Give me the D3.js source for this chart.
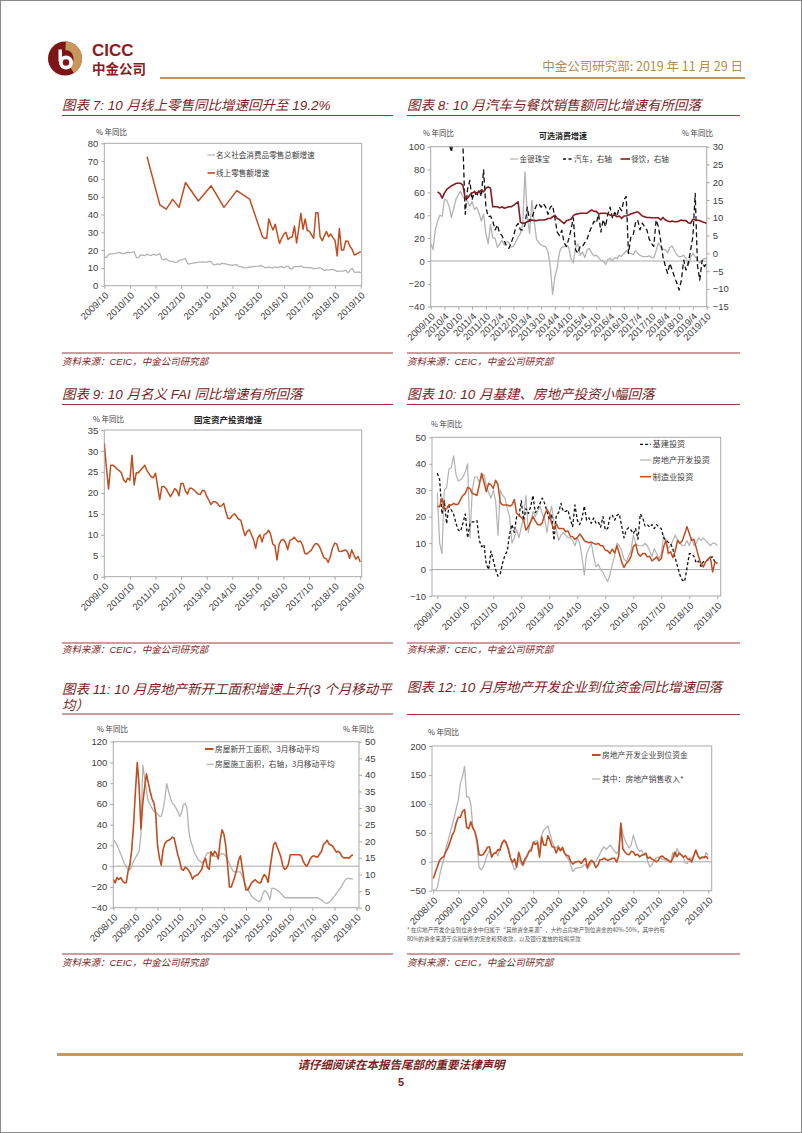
<!DOCTYPE html>
<html><head><meta charset="utf-8">
<script src="https://cdn.jsdelivr.net/npm/d3@7"></script>
<style>
html,body{margin:0;padding:0;background:#fff;}
svg{display:block;}
text{font-family:"Liberation Sans",Arial,"Noto Sans CJK SC",sans-serif;}
</style></head><body>
<svg id="page" width="802" height="1133"></svg>
<script>
// ---------------- DATA ----------------
const ticksA = ["2009/10","2010/10","2011/10","2012/10","2013/10","2014/10","2015/10","2016/10","2017/10","2018/10","2019/10"];
const ticksB = ["2009/10","2010/4","2010/10","2011/4","2011/10","2012/4","2012/10","2013/4","2013/10","2014/4","2014/10","2015/4","2015/10","2016/4","2016/10","2017/4","2017/10","2018/4","2018/10","2019/4","2019/10"];
const ticksC = ["2008/10","2009/10","2010/10","2011/10","2012/10","2013/10","2014/10","2015/10","2016/10","2017/10","2018/10","2019/10"];

// Chart 7
const y7Ticks = [0,10,20,30,40,50,60,70,80];
const retailStart = "2009/10";
const retailTotal = [16.2,15.8,17.5,17.9,17.9,18.0,18.5,18.7,18.3,17.9,18.4,18.8,18.6,18.7,19.1,15.8,15.8,17.4,17.1,16.9,17.7,17.2,17.0,17.7,17.2,17.3,18.1,14.7,14.7,15.2,14.1,13.8,13.7,13.1,13.2,14.2,14.5,14.9,15.2,12.3,12.3,12.6,12.8,12.9,13.3,13.2,13.4,13.3,13.3,13.7,13.6,11.8,11.8,12.2,11.9,12.5,12.4,12.2,11.9,11.6,11.5,11.7,11.9,10.7,10.7,10.2,10.0,10.1,10.6,10.5,10.8,10.9,11.0,11.2,11.1,10.2,10.2,10.5,10.1,10.0,10.6,10.2,10.6,10.7,10.0,10.8,10.9,9.5,9.5,10.9,10.7,10.7,11.0,10.4,10.1,10.3,10.0,10.2,9.4,9.7,9.7,10.1,9.4,8.5,9.0,8.8,9.0,9.2,8.6,8.1,8.2,8.2,8.2,8.7,7.2,8.6,9.8,7.6,7.5,7.8,7.2];
const onlineEarlyDates = ["2011/6","2011/12","2012/3","2012/6","2012/9","2012/12","2013/6","2013/12","2014/6","2014/12","2015/6"];
const onlineEarlyValues = [72.5,45.4,43,48.5,44,58,47.6,56.2,44,53.4,48.7];
const onlineMonthlyStart = "2015/12";
const onlineMonthly = [27.5,26.6,26.6,37.5,34,31.3,34.5,29,23.8,26.5,29,30,26,27,27.5,33.5,24,32,40.7,31.6,37.5,31,30.5,28.5,26.6,41,41,27.5,25.3,28,30.5,27.5,29,27,25.3,16.7,32.2,20,20,25.1,25,22,20.4,17.2,17.8,18.4,19.2];
const legend7 = ["名义社会消费品零售总额增速","线上零售额增速"];

// Chart 8
const y8Ticks = [-40,-20,0,20,40,60,80,100];
const y8RightTicks = [-15,-10,-5,0,5,10,15,20,25,30];
const jewelryStart = "2009/10";
const jewelry = [15.5,10,27,35,40,39,54,53,48,38,46,54,58,61,56,54,52,48,52,45,47,42,35,41,24,15,32,20,20,12,15,18,14,17,16,12,13,17,21,24,32,78,39,24,53,35,19,16,14,13,12.5,8,-5,-29,-14,-6,8,12,12.5,14,12,2,-1.5,12,15,5,8,3,10,11,7,4.5,5,3,0.5,0,-3,1,2.5,0,3,2,5,4,6.5,9,7,6.7,5.5,9,6.7,5,4,3.8,3.8,4.5,3,2.8,9,16,12,10,10,7,12,13,9,5.5,3.8,4,5,2.3,-4,3,6.7,3.8,1,-1.8,0.5,2.3,2];
const autoStart = "2009/10";
const autoSales = [45,50,55,60,50,45,40,35,31,28.5,33,36,38,34,31,11,18,20.5,15,17.5,16,18,16,23.5,13,10.3,10.5,9,6.6,8,5.6,5,3.5,2,1.4,3,4.7,7.5,8.4,6.6,6.6,8,13,9,10,12,13.5,14,13,14,13,11,13,13.5,10,6,5,6.5,3,1.9,4,6.6,10,1,0,2,1.9,3,4,6,7.5,9,8.5,11,6,9.5,7.5,11,13,10,11.5,10.5,13,12,15,16,0,4.5,5,8.5,9.4,6.6,8.5,7.5,6.6,4,2.8,2,9.4,7.5,3.5,-1,-3.5,-5.6,-2.8,-4.7,-6.6,-8.4,-10.3,-7.5,-1.9,-4.7,-2.8,0.9,4.7,16.9,-3.5,-7.5,-2,-3.7,-2.8];
const cateringStart = "2010/1";
const catering = [17.3,16.8,15.5,17,18,18.5,19,19.3,19.7,19.7,19.7,19.2,15.5,15.5,16.4,17,17.3,17,17.3,17.8,17.3,18.3,18.7,18.3,13.1,13.1,13.1,12.8,13.1,12.7,12.9,13.1,13.1,13.5,14,14.5,8.8,8.4,8.6,8.9,9.2,9.4,9.2,9.2,9.4,9.4,9.4,9.5,9.8,9.8,10.3,10.7,9.8,9.5,8.9,8.4,9.2,9.4,9.6,10.6,11,11.1,11.3,11.3,11.3,11.3,11.8,12.2,11.8,11.8,11.1,11.3,11.3,11.3,11.1,10.8,10.5,10.8,10.3,10.5,9.8,10.5,10.5,10.8,11.1,11.3,11.5,11.7,11.1,10.5,10.3,10.1,10.1,10,10,10,10,9.4,10.1,9.4,9.1,8.9,9.1,8.9,8.9,9.1,9.4,9.2,9.2,8.6,8.4,9.6,9.4,9.3,9.2,8.9,8.7,8.5];
const legend8 = ["金银珠宝","汽车，右轴","餐饮，右轴"];

// Chart 9
const y9Ticks = [0,5,10,15,20,25,30,35];
const faiStart = "2009/10";
const fai = [31.8,26,20.9,26.6,26.6,26.2,25.7,25.3,24.8,23.2,22.5,23.5,23,29,21.9,24.8,24.8,25.4,26,26.6,25.3,24.6,23.8,23.6,24.7,21.5,18.4,21.5,21.5,21,20,19.1,19.9,21,20.6,19.3,22.3,22.2,20.5,19.7,21.1,21.1,20.7,20.2,19.7,19.6,20.6,20.5,19.2,18.3,17.2,17.9,17.9,17.5,16.8,16.9,17.5,15.5,13.9,13.9,14.6,15,14.4,13.7,13.5,11.5,9.8,10.8,11.2,10,8.8,6.8,9.3,10,8.3,10.1,10.3,11.1,10.1,7.8,7.4,4,7.8,8.7,8.9,8.1,6.5,8.6,8.9,9.4,8.8,8.3,8.5,7.5,5.6,5.4,5.9,6.3,7.2,7.9,7.8,7.1,5.8,4.5,4.3,3.4,4.8,6.8,8,7.8,6.1,6,6.2,6.4,6,4.4,6.4,5.2,4.2,4.8,3.5];

// Chart 10
const y10Ticks = [-10,0,10,20,30,40,50];
const invStart = "2009/10";
const infra = [36.4,34,21,26,17.4,24,22.5,21,17.5,14.9,14.5,17.6,21,12,17.4,18,18,18.5,11,8.6,9.5,2,0,7,3.5,0,-2.5,-1.5,2.5,5.5,7,13.5,17,14,20,20,26,18.5,23,21.2,23.7,28,21.5,23,25,27,25,22,19,21,11,20.5,21.5,25,22,22,22.5,19,16.2,24.4,18.7,17,19.3,24,18.7,19.5,17.5,19.5,17.6,18,16,20,15,15.5,20,20.5,18.7,20.5,21,16.5,12,15,15.8,15,13.6,15.5,11.5,21,19.7,16.5,17,16,17,15.5,17,16,15.5,12,11.1,10.3,9.9,7.6,4.2,1,-2.1,-4,-4.5,0.5,6,6,5,2.5,3.2,1.2,3,3,3.7,4.5,4.8,2.8,2.5];
const realEstateInv = [29,10,6,30,31,38,38.5,43,36,33.5,34,35,37,40,12,30,35,35,33,35,36,32,29,27,30,26,13,30,28,27,23,20,10,12,15,12,16,20,28,14,18,22,20,22,24,21,19,14,20,24,18,15,11,13,14,13,12,12,11,9,12,10,5,-2,6,8,10,5,1,2,0,-1,-3,-4.5,-2,2,5,10,9,7,4,3,5,7,13,10,9,9,9,10,9,7,5,8,6,4,6,13,10,8,9,11,13,11,10,9,9,11,9,12,9,10,12,11,12,11,10,9,10,10,9];
const manufInv = [24,23.7,27,23,23,24.5,24.4,25,24.5,24.8,26.5,28,28.8,31,30.7,28.8,28.5,28,32,36.4,33,29.4,32.6,32,30.7,33.8,32,25.3,24.4,24.4,24.4,24,24.4,26.5,21.2,20.6,19.7,18.7,14.9,16.2,18,20,18.4,17,16.8,17.7,20.6,22.7,21.2,17.4,15.2,17.2,15.5,15.5,15.5,14.3,14.6,12.6,12.4,11.4,12.1,13.4,12.4,10.9,10.5,10.1,10.4,9.9,9.5,9.9,9,9,7.3,7.1,6.1,7.7,6.3,9,6.1,2.9,0.8,2.3,3.2,5,8.6,9.6,6.1,5,6.1,6.1,4.8,5,3.3,3.9,4.8,3.3,4.2,8.6,11.1,6.1,6.7,4.5,7.1,11.1,9.9,10.9,13.4,16.2,13.6,11.1,11.4,8.2,4.8,2.3,1,2.9,3.9,4.8,-0.9,2.9,2.3];
const legend10 = ["基建投资","房地产开发投资","制造业投资"];

// Chart 11
const y11Ticks = [-40,-20,0,20,40,60,80,100,120];
const y11RightTicks = [0,5,10,15,20,25,30,35,40,45,50];
const areaStart = "2008/10";
const newStarts = [-12.8,-16,-11,-12.8,-11,-14,-16,-16,-5,1.6,16,40,72,100,77,36,61,76,89,80,72,65,61,51,20,8,1,16,22,24,25,26,28,27,19,11,5,-2.8,-4,-1,-2,-4.5,-7.5,-12.5,-9.6,-9,-8,-5.5,-3,4,7.5,-1,-3,14,10,14.5,12,7,25,35,31,20,1,-20,-20,-15,-9.6,-3,6,10,-2,-14,-23,-23,-19.5,-16,-14.4,-13,-14.8,-16,-16,-11,-8,-10.5,-15.5,-2,10,21,23,18,13.5,8.5,0,-3,-1.6,2,11,11,11,11,11,11,10,5,1.6,0,3.5,7.5,9.6,10,9,9,12,14.4,21,22.5,25,21.5,20.5,19.5,16.5,13.5,14.4,12.8,9.6,8,8,8,8,10,11];
const underConstruction = [20.4,19.8,18.8,17.6,16.2,14.8,13.3,12.3,11.5,11.5,12.5,14,15,16,17,22,43,39,35,32,31,30,29,28.6,28.4,27.6,27.5,29.5,33,37.4,35,33,31.5,31,30,29,27.5,28.5,31,31.4,30,23,20,18.5,16.5,15.5,14.5,14,13.5,14.2,15.5,16.5,16.6,16.5,16.2,15.4,15.4,15.6,16,16.3,16.2,15.5,14.4,13.3,12,11,10.8,10.8,10.8,10.7,9.5,7.8,6.5,5.5,4.5,3.5,3,2.5,2.2,1.8,2.3,4,5.2,4.8,3.8,2.5,5.8,5.8,5.6,5.2,4.8,4.3,3.6,3.1,3,3,3,3,3,3,3,3,3,3,3,3,3,3,3,3,3,3,2.6,2.3,1.8,1.4,1.3,1.6,2.1,2.8,3.5,4.3,5,5.8,6.5,7.6,8.5,8.8,8.8,8.7,8.7];
const legend11 = ["房屋新开工面积、3月移动平均","房屋施工面积，右轴，3月移动平均"];

// Chart 12
const y12Ticks = [-50,0,50,100,150,200];
const fundStart = "2008/10";
const funds = [-29,-18,-8,2,6.5,9,17,24,34,45,52,67,77,77,87,90,60,57,69,58,52,37,12,11,13,18,25,26,8,14,15,21,20,32,37,33,22.5,7,-1,5,-9,16.5,3,-5,5,10,18,19,34,30,33,8,43,29,28,45,37,26,25,15,25,19,25,15,11,10,0,-4,-0.6,0,1,-3,2.3,6,-10,-1,2.3,-1,-10,-6,3.5,4,6,4,2.3,4.5,6,6,-0.6,10,66,22,17,13,12,18,17,11,13,8.5,11,12,15,6,8,4.5,2.3,0,2.3,8.5,10,6,5,2,-0.6,6,16.8,9,15,12,8,10.5,5,4.5,-0.6,10,20,10,5,7.5,8,9,5];
const salesIncome = [-48,-50,-44,-24,-9,3,22.5,35,48.5,62,76,92,106,135,147,165,112,112,100,60,51,30,-10,-14,-9,2,13,19,8,15,17,10,22.5,33,38,30,20,6,-4,-14,-9,4.5,-3,-7,-0.6,9,19,24,31,36,36,12,45.7,55,58,62,48.5,35,27,24,28,21,21,15,8,4,-7,-17,-12,-11,-10,-10,-6.4,-5,-13,-7,-0.6,0,0,7,14,21,26,21,25,29,23,18,14,20,68,48,37,30,24,29,45.7,34,23,18,20,12,14,-1,-9,-5,2,7,8,8,4,3.5,2.3,-0.6,0,16,8,23,16,12,8,-2,-3,7,5,10,20,12,5,9,6,16,11];
const legend12 = ["房地产开发企业到位资金","其中：房地产销售收入*"];

// ---------------- DRAWING ----------------
const ORANGE = "#c04d20", GRAY = "#b3b3b3", DARKRED = "#851b22", TITLE = "#7b1e22";
const FRAME = "#a9a9a9", TXT = "#404040";
const CJK = "'Noto Sans CJK SC',sans-serif";
const svg = d3.select("#page");
const M = s => { const p = s.split("/").map(Number); return p[0]*12 + p[1] - 1; };
const monthly = (start, vals) => vals.map((v,i) => ({m: M(start)+i, v}));

svg.append("rect").attr("x",0.5).attr("y",0.5).attr("width",801).attr("height",1132)
  .attr("fill","none").attr("stroke","#8a8a8a");

// header logo
const logo = svg.append("g").attr("transform","translate(65,58.5)");
logo.append("circle").attr("r",17).attr("fill","#7d1518");
logo.append("path").attr("d", d3.arc()({innerRadius:8.5, outerRadius:17, startAngle:0.05, endAngle:2.6})).attr("fill","#c9975a");
logo.append("circle").attr("cx",1).attr("cy",4).attr("r",7).attr("fill","#fff");
logo.append("circle").attr("cx",1).attr("cy",4).attr("r",3.2).attr("fill","#7d1518");
logo.append("rect").attr("x",-6.5).attr("y",-9).attr("width",3.5).attr("height",12).attr("fill","#fff");
svg.append("text").attr("x",92).attr("y",56).attr("font-size",17).attr("font-weight","bold").attr("fill","#8b1a1f").text("CICC");
svg.append("text").attr("x",92).attr("y",74).attr("font-size",13.5).attr("font-weight","bold").attr("fill","#8b1a1f").style("font-family",CJK).text("中金公司");
svg.append("text").attr("x",743).attr("y",71).attr("text-anchor","end").attr("font-size",12.5).attr("fill","#b58a4e").style("font-family",CJK).text("中金公司研究部: 2019 年 11 月 29 日");
svg.append("line").attr("x1",160).attr("x2",745).attr("y1",78).attr("y2",78).attr("stroke","#c19558").attr("stroke-width",2);

// footer
svg.append("line").attr("x1",57).attr("x2",743).attr("y1",1054.5).attr("y2",1054.5).attr("stroke","#c39a5f").attr("stroke-width",3);
svg.append("text").attr("x",401).attr("y",1069).attr("text-anchor","middle").attr("font-size",11.5).attr("font-style","italic").attr("font-weight","bold").attr("fill",TITLE).style("font-family",CJK).text("请仔细阅读在本报告尾部的重要法律声明");
svg.append("text").attr("x",401).attr("y",1086).attr("text-anchor","middle").attr("font-size",11).attr("font-weight","bold").attr("fill",TITLE).text("5");

// section titles, rules, sources
function title(x, y, lines){
  lines.forEach((t,i) => svg.append("text").attr("x",x).attr("y",y+i*16).attr("font-size",13.5)
    .attr("font-style","italic").attr("fill",TITLE).text(t));
}
function rule(x1, x2, y){
  svg.append("line").attr("x1",x1).attr("x2",x2).attr("y1",y).attr("y2",y).attr("stroke","#9b3a3a").attr("stroke-width",1);
}
function source(x, y){
  svg.append("text").attr("x",x).attr("y",y).attr("font-size",9.5).attr("font-style","italic").attr("fill",TITLE).text("资料来源：CEIC，中金公司研究部");
}
const L0=62, L1=393, R0=407, R1=740;
title(L0,110,["图表 7: 10 月线上零售同比增速回升至 19.2%"]); rule(L0,L1,115.5);
title(R0,110,["图表 8: 10 月汽车与餐饮销售额同比增速有所回落"]); rule(R0,R1,115.5);
title(L0,399,["图表 9: 10 月名义 FAI 同比增速有所回落"]); rule(L0,L1,404.5);
title(R0,399,["图表 10: 10 月基建、房地产投资小幅回落"]); rule(R0,R1,404.5);
title(L0,694,["图表 11: 10 月房地产新开工面积增速上升(3 个月移动平","均）"]); rule(L0,L1,714);
title(R0,692,["图表 12: 10 月房地产开发企业到位资金同比增速回落"]); rule(R0,R1,714.5);
rule(L0,L1,353); rule(R0,R1,353); source(L0,365); source(R0,365);
rule(L0,L1,643); rule(R0,R1,643); source(L0,653); source(R0,653);
rule(L0,L1,954); rule(R0,R1,954); source(L0,966); source(R0,966);

let clipN = 0;
function panel(p){
  const g = svg.append("g");
  const x = d3.scaleLinear().domain([M(p.xt[0]), M(p.xt[p.xt.length-1])]).range([p.xa,p.xb]);
  const y = d3.scaleLinear().domain(p.yd).range([p.bottom,p.top]);
  const y2 = p.y2d ? d3.scaleLinear().domain(p.y2d).range([p.bottom,p.top]) : null;
  const id = "clip" + (++clipN);
  svg.append("clipPath").attr("id",id).append("rect").attr("x",p.left).attr("y",p.top)
    .attr("width",p.right-p.left).attr("height",p.bottom-p.top);
  if (p.zero) g.append("line").attr("x1",p.left).attr("x2",p.right).attr("y1",y(0)).attr("y2",y(0)).attr("stroke",FRAME);
  g.append("rect").attr("x",p.left).attr("y",p.top).attr("width",p.right-p.left).attr("height",p.bottom-p.top)
    .attr("fill","none").attr("stroke",FRAME);
  const ya = g.append("g").attr("transform",`translate(${p.left},0)`)
    .call(d3.axisLeft(y).tickValues(p.yt).tickSize(3).tickPadding(3).tickFormat(d3.format("d")));
  ya.select(".domain").remove();
  ya.selectAll("line").attr("stroke",FRAME);
  ya.selectAll("text").attr("font-size",9.5).attr("fill",TXT).style("font-family","'Liberation Sans',Arial");
  if (y2){
    const yb = g.append("g").attr("transform",`translate(${p.right},0)`)
      .call(d3.axisRight(y2).tickValues(p.y2t).tickSize(3).tickPadding(3).tickFormat(d3.format("d")));
    yb.select(".domain").remove();
    yb.selectAll("line").attr("stroke",FRAME);
    yb.selectAll("text").attr("font-size",9.5).attr("fill",TXT).style("font-family","'Liberation Sans',Arial");
  }
  const xa = g.append("g").attr("transform",`translate(0,${p.bottom})`)
    .call(d3.axisBottom(x).tickValues(p.xt.map(M)).tickSize(3).tickFormat((d,i)=>p.xt[i]));
  xa.select(".domain").remove();
  xa.selectAll("line").attr("stroke",FRAME);
  xa.selectAll("text").attr("x",0).attr("y",0).attr("dy","0.35em").attr("text-anchor","end")
    .attr("transform","translate(2,8) rotate(-45)").attr("font-size",9.5).attr("fill",TXT)
    .style("font-family","'Liberation Sans',Arial");
  const lines = g.append("g").attr("clip-path",`url(#${id})`);
  function addLine(pts, color, w, dash, right){
    const ys = right ? y2 : y;
    lines.append("path").datum(pts)
      .attr("d", d3.line().x(d=>x(d.m)).y(d=>ys(d.v)))
      .attr("fill","none").attr("stroke",color).attr("stroke-width",w)
      .attr("stroke-dasharray",dash||null).attr("stroke-linejoin","round");
  }
  return {g, x, y, y2, addLine};
}
function txt(x, y, s, size, opts){
  opts = opts || {};
  const t = svg.append("text").attr("x",x).attr("y",y).attr("font-size",size).attr("fill",opts.fill||TXT)
    .style("font-family",CJK).text(s);
  if (opts.bold) t.attr("font-weight","bold");
  if (opts.anchor) t.attr("text-anchor",opts.anchor);
  return t;
}
function legLine(x1, x2, y, color, w, dash){
  svg.append("line").attr("x1",x1).attr("x2",x2).attr("y1",y).attr("y2",y).attr("stroke",color)
    .attr("stroke-width",w).attr("stroke-dasharray",dash||null);
}

// Chart 7
const c7 = panel({left:104.3,right:361.7,top:143.3,bottom:285.7,xa:104.3,xb:360.7,yd:[0,80],yt:y7Ticks,xt:ticksA});
c7.addLine(monthly(retailStart, retailTotal), GRAY, 1.3);
const online = onlineEarlyDates.map((d,i)=>({m:M(d), v:onlineEarlyValues[i]})).concat(monthly(onlineMonthlyStart, onlineMonthly));
c7.addLine(online, ORANGE, 1.5);
txt(96,135,"% 年同比",7.5);
legLine(207.5,215,155,GRAY,1.2); txt(216,158,legend7[0],7.6);
legLine(207.5,215,173,ORANGE,1.6); txt(216,176,legend7[1],7.6);

// Chart 8
const c8 = panel({left:430.7,right:706.7,top:146.7,bottom:306.7,xa:430.7,xb:706.7,yd:[-40,100],yt:y8Ticks,y2d:[-15,30],y2t:y8RightTicks,xt:ticksB,zero:true});
c8.addLine(monthly(jewelryStart, jewelry), GRAY, 1.3);
c8.addLine(monthly(autoStart, autoSales), "#111", 1.3, "5,3", true);
c8.addLine(monthly(cateringStart, catering), DARKRED, 1.6, null, true);
txt(423,136,"% 年同比",7.5);
txt(682,136,"% 年同比",7.5);
txt(563,139,"可选消费增速",8,{bold:true,anchor:"middle",fill:"#222"});
legLine(510,518,159,GRAY,1.2); txt(519.5,162,legend8[0],7.6);
legLine(563,573,159,"#111",1.4,"3,2.5"); txt(574,162,legend8[1],7.6);
legLine(620.5,630,159,DARKRED,1.6); txt(631,162,legend8[2],7.6);

// Chart 9
const c9 = panel({left:104.3,right:361.7,top:430,bottom:576.7,xa:104.3,xb:360.2,yd:[0,35],yt:y9Ticks,xt:ticksA});
c9.addLine(monthly(faiStart, fai), ORANGE, 1.5);
txt(93,421.5,"% 年同比",7.5);
txt(228,423,"固定资产投资增速",8.5,{bold:true,anchor:"middle",fill:"#222"});

// Chart 10
const c10 = panel({left:432,right:720.7,top:437.3,bottom:596,xa:437.3,xb:717.3,yd:[-10,50],yt:y10Ticks,xt:ticksA,zero:true});
c10.addLine(monthly(invStart, realEstateInv), GRAY, 1.2);
c10.addLine(monthly(invStart, infra), "#111", 1.3, "3,2.2");
c10.addLine(monthly(invStart, manufInv), ORANGE, 1.5);
txt(431,427,"% 年同比",7.5);
legLine(640,651,444.3,"#111",1.3,"3,2.2"); txt(652.5,447.3,legend10[0],8.2);
legLine(640,651,460,GRAY,1.2); txt(652.5,463,legend10[1],8.2);
legLine(640,651,476.7,ORANGE,1.5); txt(652.5,479.7,legend10[2],8.2);

// Chart 11
const c11 = panel({left:113.3,right:359,top:741.7,bottom:907.7,xa:113.3,xb:356.6,yd:[-40,120],yt:y11Ticks,y2d:[0,50],y2t:y11RightTicks,xt:ticksC,zero:true});
c11.addLine(monthly(areaStart, underConstruction), GRAY, 1.3, null, true);
c11.addLine(monthly(areaStart, newStarts), ORANGE, 1.6);
txt(97,732,"% 年同比",7.5);
txt(343,732,"% 年同比",7.5);
legLine(205,213.5,749,ORANGE,2); txt(215,752,legend11[0],7.7);
legLine(206.5,213.5,764.3,GRAY,1.2); txt(215,767.3,legend11[1],7.7);

// Chart 12
const c12 = panel({left:432,right:711.7,top:746,bottom:890.7,xa:433.3,xb:708.3,yd:[-50,200],yt:y12Ticks,xt:ticksC,zero:true});
c12.addLine(monthly(fundStart, salesIncome), GRAY, 1.3);
c12.addLine(monthly(fundStart, funds), ORANGE, 1.6);
txt(428,735,"% 年同比",7.5);
legLine(592,600.5,755,ORANGE,2); txt(602,758,legend12[0],7.8);
legLine(592,600.5,779,GRAY,1.2); txt(602,782,legend12[1],7.8);
txt(407,931.5,"* 在房地产开发企业到位资金中归属于“其他资金来源”，大约占房地产到位资金的40%-50%，其中约有",5.6,{fill:"#555"});
txt(407,941,"80%的资金来源于房屋销售的定金和预收款，以及银行发放的按揭贷款",5.6,{fill:"#555"});
</script>
</body></html>
